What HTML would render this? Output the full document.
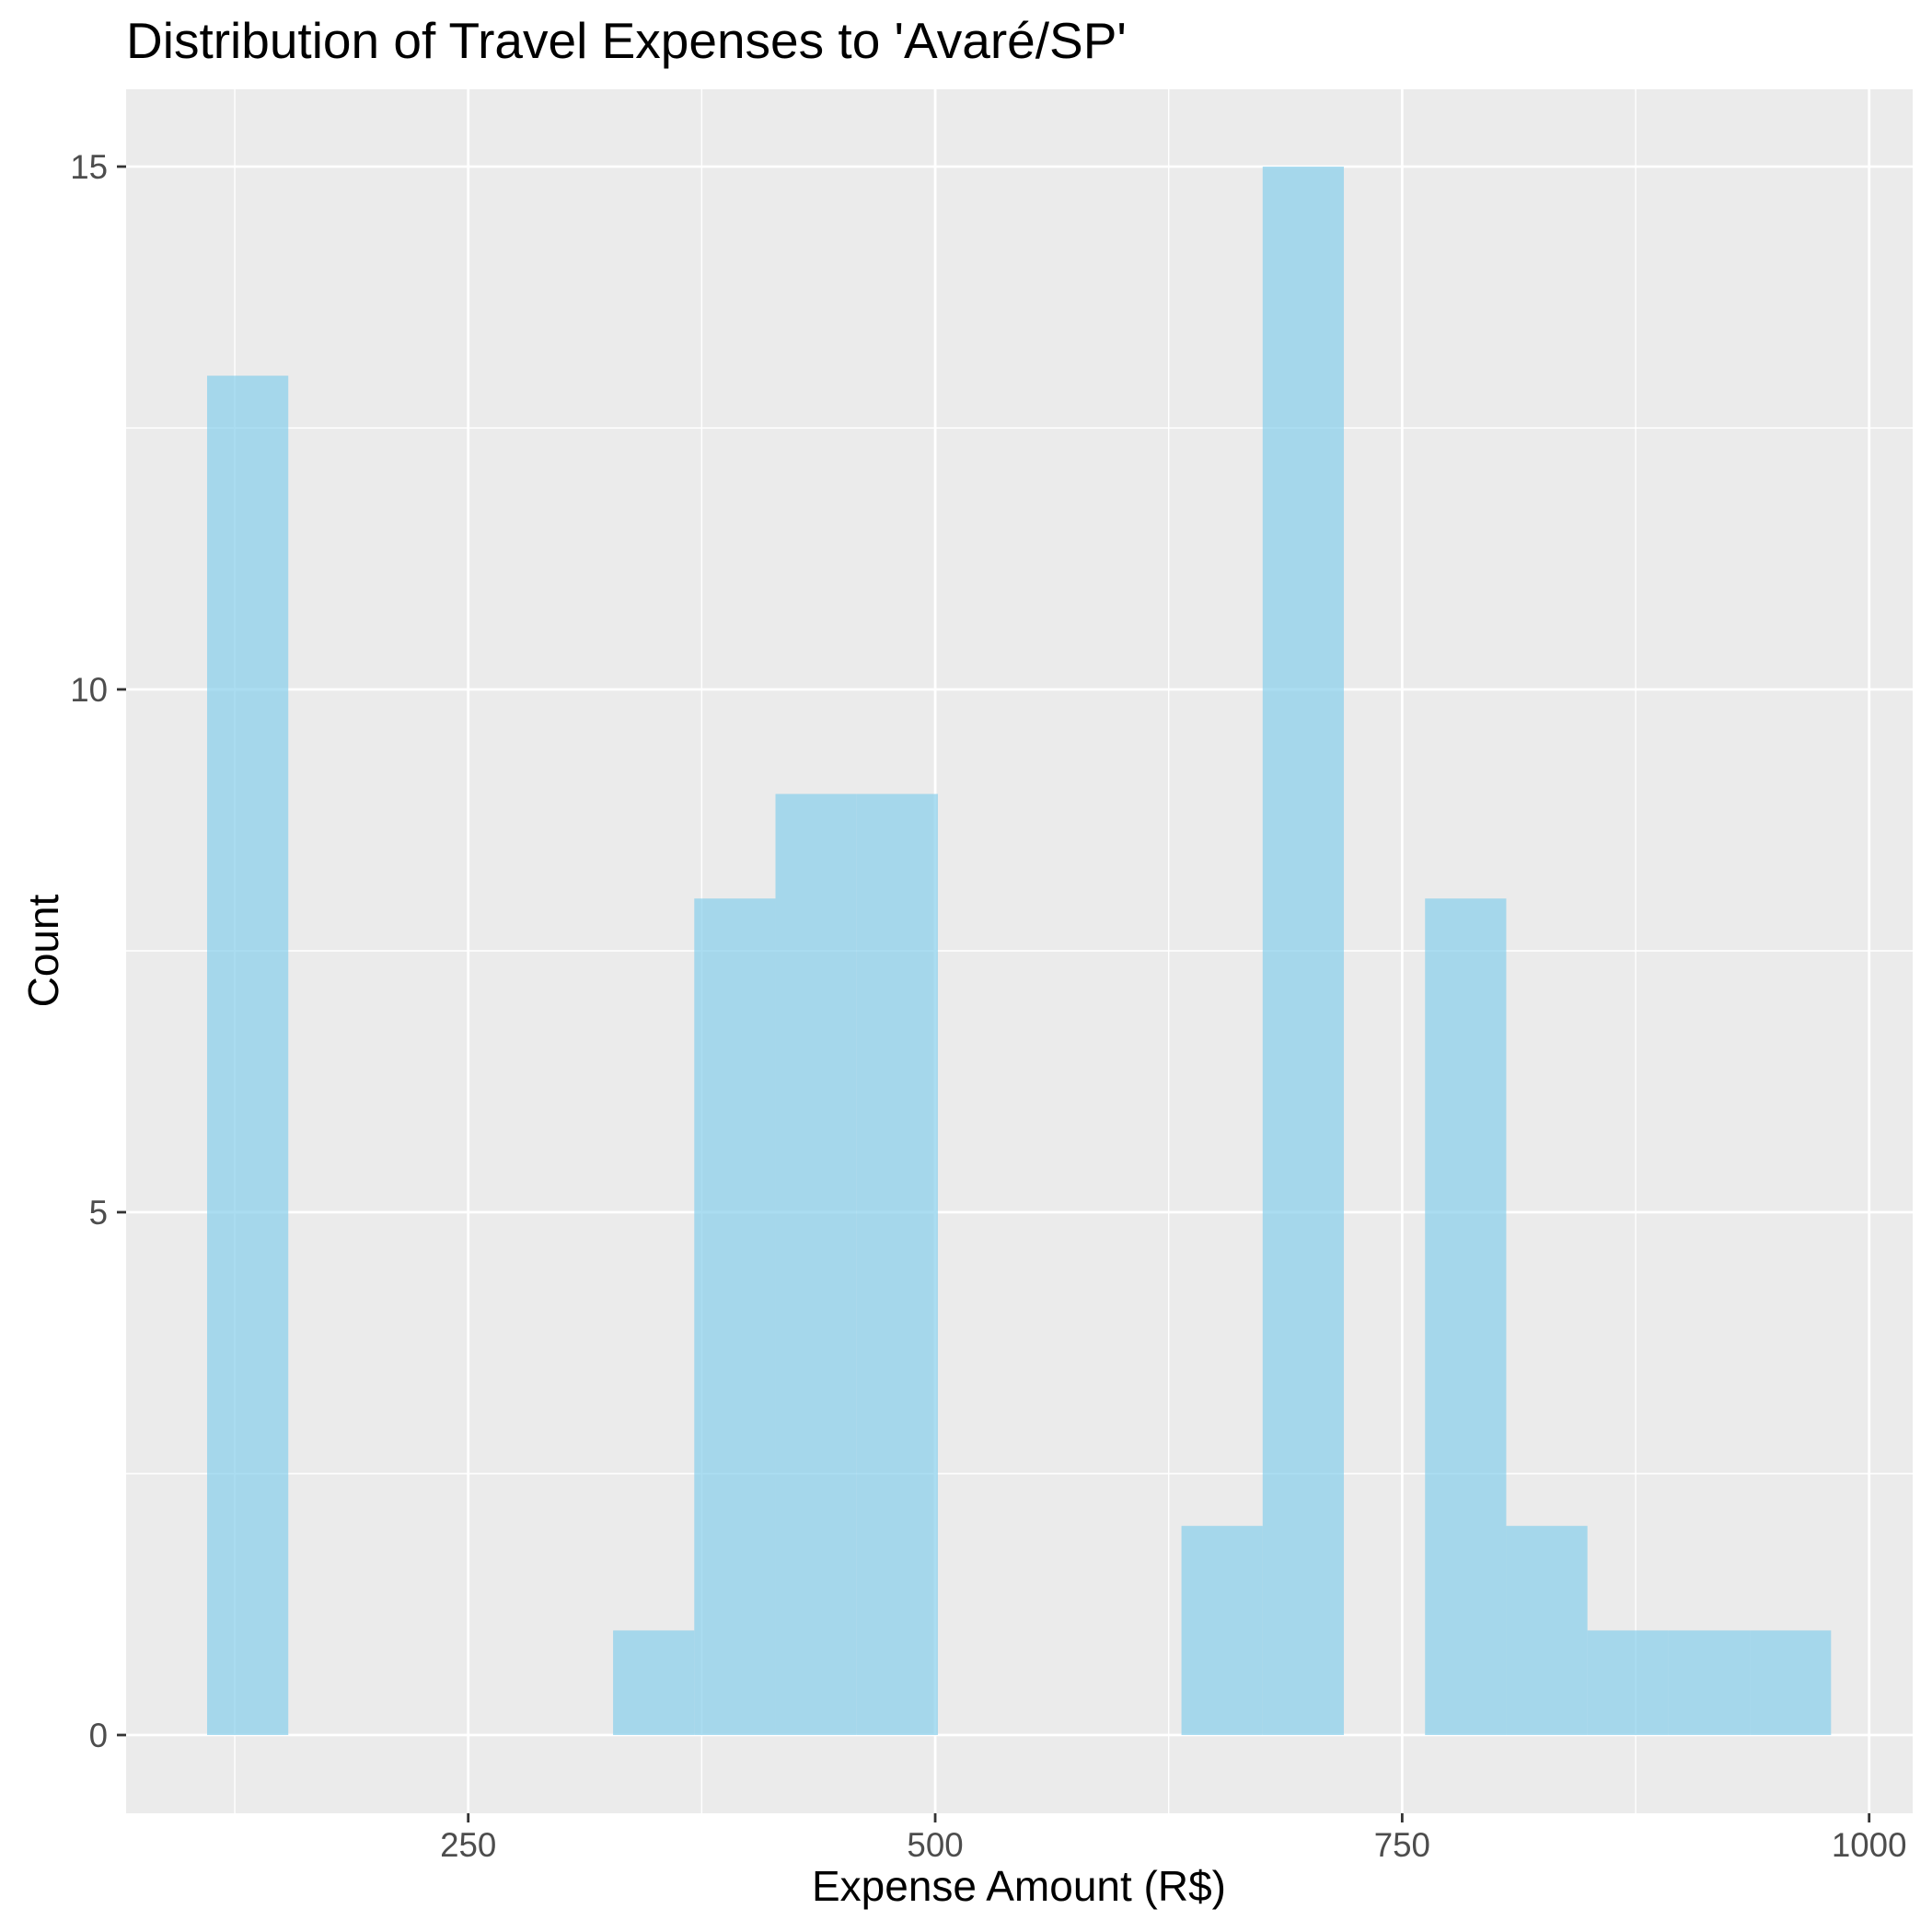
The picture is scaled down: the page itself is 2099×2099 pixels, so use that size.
<!DOCTYPE html>
<html><head><meta charset="utf-8"><style>body{margin:0;background:#fff}svg{display:block}</style></head>
<body>
<svg id="chart" width="2099" height="2099" viewBox="0 0 2099 2099" xmlns="http://www.w3.org/2000/svg" font-family="Liberation Sans, Arial, sans-serif">
<text x="137" y="63" font-size="55" fill="#000">Distribution of Travel Expenses to 'Avaré/SP'</text>
<rect x="137" y="97" width="1941" height="1873" fill="#ebebeb"/>
<g id="grid"></g>
<g id="bars"></g>
<g id="axes"></g>
<text x="1107" y="2065" font-size="46" text-anchor="middle" fill="#000">Expense Amount (R$)</text>
<text transform="translate(63,1033) rotate(-90)" font-size="46" text-anchor="middle" fill="#000">Count</text>
</svg>
<script>
const binStart = 110.2;
const binWidth = 43.47;
const counts = [13,0,0,0,0,1,8,9,9,0,0,0,2,15,0,8,2,1,1,1];
const xTicks = [250,500,750,1000];
const xMinor = [125,375,625,875];
const yTicks = [0,5,10,15];
const yMinor = [2.5,7.5,12.5];

const L=137,R=2078,T=97,B=1970;
const xs = v => 508.7 + (v-250)*(2030.7-508.7)/750;
const ys = v => 1885 - v*(1885-181)/15;
const NS='http://www.w3.org/2000/svg';
function mk(tag, attrs, parent){const e=document.createElementNS(NS,tag);for(const k in attrs)e.setAttribute(k,attrs[k]);parent.appendChild(e);return e;}
const grid=document.getElementById('grid'), bars=document.getElementById('bars'), axes=document.getElementById('axes');
xMinor.forEach(v=>{const l=mk('line',{x1:xs(v),x2:xs(v),y1:T,y2:B,stroke:'#fff','stroke-width':1.4},grid);

});
yMinor.forEach(v=>{const l=mk('line',{x1:L,x2:R,y1:ys(v),y2:ys(v),stroke:'#fff','stroke-width':1.4},grid);

});
xTicks.forEach(v=>{const l=mk('line',{x1:xs(v),x2:xs(v),y1:T,y2:B,stroke:'#fff','stroke-width':2.8},grid);


const t=mk('line',{x1:xs(v),x2:xs(v),y1:B,y2:B+10,stroke:'#333','stroke-width':2.8},axes);


const tx=mk('text',{x:xs(v),y:2017,'font-size':36.7,'text-anchor':'middle',fill:'#4d4d4d'},axes);tx.textContent=v;

});
yTicks.forEach(v=>{const l=mk('line',{x1:L,x2:R,y1:ys(v),y2:ys(v),stroke:'#fff','stroke-width':2.8},grid);


const t=mk('line',{x1:L-10,x2:L,y1:ys(v),y2:ys(v),stroke:'#333','stroke-width':2.8},axes);


const tx=mk('text',{x:117,y:ys(v)+13,'font-size':36.7,'text-anchor':'end',fill:'#4d4d4d'},axes);tx.textContent=v;

});
counts.forEach((c,i)=>{if(!c)return;const x0=xs(binStart+i*binWidth),x1=xs(binStart+(i+1)*binWidth);
const r=mk('rect',{x:x0,y:ys(c),width:x1-x0,height:ys(0)-ys(c),fill:'#87ceeb','fill-opacity':0.7},bars);

});
</script>
</body></html>
